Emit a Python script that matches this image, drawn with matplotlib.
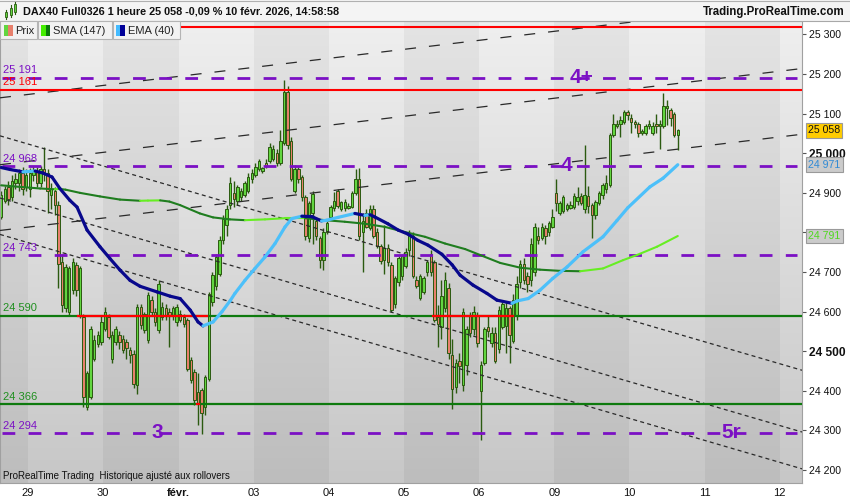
import numpy as np
import matplotlib
matplotlib.use('Agg')
import matplotlib.pyplot as plt
from matplotlib.collections import LineCollection
from matplotlib.patches import Rectangle
import matplotlib.transforms as mtransforms
from matplotlib.lines import Line2D

plt.rcParams['font.family'] = ['Liberation Sans', 'DejaVu Sans']

# ---------------- data (hourly bars, DAX40 Full0326) ----------------
opens = [24840, 24880, 24915, 24890, 24925, 24925, 24950, 24915, 24910, 24945,
         24955, 24925, 24960, 24950, 24895, 24905, 24870, 24725, 24610, 24600,
         24655, 24717, 24590, 24587, 24360, 24385, 24481, 24519, 24523, 24557,
         24587, 24481, 24523, 24540, 24532, 24523, 24502, 24494, 24414, 24612,
         24553, 24528, 24629, 24599, 24553, 24587, 24608, 24600, 24590, 24574,
         24595, 24587, 24578, 24477, 24448, 24398, 24402, 24360, 24431, 24624,
         24666, 24696, 24780, 24820, 24870, 24900, 24880, 24890, 24895, 24905,
         24935, 24945, 24960, 24955, 24975, 24980, 24985, 25000, 24975, 25025,
         25155, 25030, 24905, 24960, 24940, 24890, 24785, 24850, 24830, 24785,
         24730, 24800, 24840, 24862, 24905, 24860, 24862, 24862, 24865, 24900,
         24935, 24800, 24850, 24810, 24860, 24800, 24765, 24730, 24760, 24718,
         24620, 24675, 24690, 24715, 24755, 24790, 24680, 24635, 24650, 24700,
         24745, 24725, 24587, 24560, 24610, 24660, 24490, 24410, 24475, 24415,
         24465, 24590, 24555, 24590, 24400, 24470, 24560, 24520, 24545, 24505,
         24560, 24565, 24608, 24525, 24590, 24675, 24720, 24690, 24680, 24700,
         24790, 24785, 24810, 24800, 24815, 24900, 24850, 24855, 24860, 24862,
         24865, 24880, 24893, 24860, 24893, 24870, 24845, 24875, 24895, 24910,
         24920, 25045, 25070, 25075, 25080, 25105, 25090, 25078, 25075, 25050,
         25050, 25068, 25050, 25075, 25070, 25070, 25115, 25110, 25100, 25045]
highs = [24905, 24918, 24930, 24945, 24950, 24960, 24965, 24960, 24962, 24968,
         24965, 24968, 25015, 24960, 24925, 24915, 24880, 24745, 24720, 24715,
         24735, 24725, 24715, 24595, 24450, 24565, 24540, 24550, 24591, 24612,
         24595, 24550, 24565, 24550, 24540, 24530, 24510, 24502, 24620, 24620,
         24600, 24650, 24640, 24610, 24680, 24625, 24620, 24610, 24615, 24620,
         24605, 24595, 24585, 24485, 24455, 24444, 24406, 24440, 24650, 24700,
         24745, 24790, 24845, 24870, 24940, 24930, 24920, 24912, 24930, 24950,
         24960, 24975, 24985, 24965, 24985, 25025, 25020, 25010, 25058, 25185,
         25170, 25040, 24970, 24965, 24945, 24895, 24880, 24905, 24840, 24790,
         24810, 24830, 24870, 24902, 24910, 24880, 24885, 24875, 24905, 24960,
         24962, 24850, 24860, 24870, 24870, 24810, 24770, 24818, 24770, 24725,
         24690, 24740, 24745, 24760, 24805, 24800, 24690, 24695, 24690, 24730,
         24755, 24730, 24616, 24680, 24700, 24672, 24530, 24480, 24495, 24610,
         24565, 24600, 24615, 24600, 24475, 24560, 24590, 24560, 24560, 24615,
         24625, 24625, 24615, 24645, 24690, 24730, 24735, 24700, 24785, 24825,
         24815, 24825, 24820, 24830, 24860, 24935, 24880, 24895, 24875, 24880,
         24900, 24915, 24900, 25020, 24918, 24875, 24882, 24905, 24925, 24945,
         25050, 25100, 25085, 25095, 25110, 25110, 25100, 25085, 25080, 25062,
         25075, 25085, 25080, 25100, 25085, 25152, 25135, 25115, 25105, 25060]
lows = [24835, 24875, 24870, 24880, 24910, 24905, 24895, 24905, 24890, 24930,
        24915, 24915, 24930, 24850, 24860, 24845, 24660, 24600, 24600, 24590,
        24645, 24640, 24585, 24360, 24352, 24380, 24475, 24510, 24515, 24550,
        24530, 24470, 24515, 24505, 24495, 24480, 24470, 24406, 24393, 24555,
        24545, 24520, 24590, 24565, 24545, 24580, 24580, 24511, 24580, 24565,
        24575, 24560, 24450, 24420, 24365, 24313, 24292, 24338, 24425, 24615,
        24655, 24690, 24770, 24790, 24860, 24865, 24870, 24880, 24890, 24900,
        24925, 24940, 24955, 24950, 24962, 24975, 24980, 24968, 24970, 25020,
        25010, 24930, 24900, 24925, 24880, 24780, 24775, 24772, 24780, 24710,
        24705, 24795, 24835, 24855, 24862, 24855, 24855, 24858, 24862, 24895,
        24780, 24700, 24810, 24805, 24785, 24760, 24720, 24695, 24715, 24600,
        24610, 24665, 24680, 24710, 24740, 24685, 24660, 24630, 24645, 24690,
        24690, 24575, 24510, 24530, 24600, 24480, 24355, 24395, 24420, 24400,
        24440, 24535, 24540, 24510, 24275, 24465, 24535, 24510, 24470, 24495,
        24555, 24495, 24470, 24520, 24580, 24660, 24670, 24650, 24665, 24690,
        24770, 24780, 24770, 24790, 24810, 24855, 24843, 24850, 24855, 24858,
        24860, 24870, 24870, 24850, 24850, 24785, 24835, 24870, 24885, 24900,
        24915, 25040, 25065, 25040, 25075, 25085, 25050, 25065, 25040, 25045,
        25045, 25060, 25045, 25050, 25012, 25065, 25072, 25070, 25040, 25008]
closes = [24895, 24910, 24885, 24930, 24935, 24950, 24910, 24945, 24950, 24955,
          24925, 24960, 24950, 24905, 24910, 24870, 24720, 24616, 24713, 24709,
          24725, 24654, 24709, 24385, 24444, 24557, 24528, 24540, 24574, 24599,
          24536, 24540, 24557, 24523, 24502, 24507, 24490, 24418, 24612, 24566,
          24595, 24641, 24599, 24574, 24671, 24612, 24591, 24590, 24608, 24612,
          24580, 24570, 24456, 24427, 24376, 24368, 24343, 24435, 24645, 24692,
          24738, 24780, 24835, 24860, 24925, 24885, 24915, 24905, 24925, 24940,
          24950, 24965, 24980, 24962, 24968, 25015, 25010, 24975, 25030, 25155,
          25020, 24935, 24960, 24935, 24890, 24790, 24875, 24898, 24790, 24730,
          24800, 24825, 24865, 24880, 24868, 24877, 24878, 24868, 24900, 24935,
          24790, 24830, 24815, 24860, 24790, 24765, 24727, 24760, 24725, 24605,
          24685, 24735, 24740, 24750, 24795, 24690, 24665, 24690, 24685, 24725,
          24700, 24580, 24570, 24640, 24680, 24495, 24405, 24470, 24462, 24600,
          24555, 24545, 24600, 24520, 24465, 24555, 24550, 24545, 24475, 24605,
          24620, 24610, 24540, 24630, 24670, 24720, 24680, 24670, 24770, 24815,
          24780, 24815, 24790, 24825, 24840, 24875, 24875, 24890, 24870, 24870,
          24893, 24890, 24875, 24895, 24868, 24845, 24876, 24900, 24920, 24925,
          25045, 25075, 25075, 25085, 25105, 25097, 25080, 25073, 25050, 25055,
          25070, 25075, 25070, 25070, 25073, 25120, 25120, 25090, 25045, 25058]

day_labels = ['29', '30', 'févr.', '03', '04', '05', '06', '09', '10', '11', '12']
day_start_bar = [8, 29, 50, 71, 92, 113, 134, 155, 176, 197, 218]

# SMA(147) and EMA(40) values (bar position, price)
sma_bar = [0, 5.3, 10.9, 15, 16.4, 18, 22, 27.6, 33.2, 38.8, 41, 44.4, 47, 50,
           55.5, 59.2, 63.9, 68.1, 73.7, 79.3, 84.9, 90.5, 96, 101.6, 107.2,
           112.8, 118.4, 124, 129.6, 133.8, 139.4, 145, 150.5, 156.1, 161.7,
           168.1, 173.7, 177.6, 183.2, 189]
sma_val = [24919, 24915, 24911, 24909, 24910, 24908, 24900, 24891, 24883, 24880,
           24880.5, 24881, 24878, 24869, 24848, 24838, 24833, 24831, 24833,
           24836, 24836, 24831, 24827, 24822, 24814, 24801, 24789, 24772, 24758,
           24743, 24723, 24711, 24706, 24703, 24702, 24709, 24730, 24743, 24764,
           24791]
ema_bar = [0, 2.5, 6.1, 9.5, 11.7, 14.2, 16.4, 19.2, 21.2, 24, 27.6, 30.4, 33.2,
           36, 38.8, 43.5, 47.2, 50, 52.8, 55, 56.4, 59.2, 61.7, 64, 65.3, 68.1,
           70.9, 73.7, 76.5, 79.3, 81.2, 84, 86.8, 89.5, 91, 94.1, 98.8, 101.6,
           103, 104.4, 108, 110.9, 113.6, 116.4, 119.2, 123.1, 126, 128.2, 131.8,
           135.7, 138.5, 142.7, 144.1, 147.2, 150.5, 154.1, 158.1, 162.5, 168.1,
           172, 175, 181.2, 184.9, 189]
ema_val = [24964, 24959, 24953, 24955, 24950, 24940, 24911, 24881, 24864, 24806,
           24764, 24734, 24705, 24679, 24664, 24650, 24639, 24633, 24604, 24574,
           24564, 24574, 24600, 24628, 24646, 24679, 24709, 24738, 24772, 24814,
           24835, 24841, 24840, 24829, 24831, 24838, 24848, 24843, 24845, 24839,
           24822, 24806, 24796, 24780, 24768, 24745, 24718, 24692, 24667, 24646,
           24629, 24621, 24627, 24633, 24654, 24684, 24713, 24751, 24789, 24830,
           24862, 24915, 24937, 24971]

# horizontal levels
level_values = [25320, 25191, 25161, 24968, 24743, 24590, 24366, 24294]
level_kinds = ['red', 'purple', 'red', 'purple', 'purple', 'green', 'green', 'purple']
level_texts = ['', '25 191', '25 161', '24 968', '24 743', '24 590', '24 366', '24 294']
broken_level = [24590, 24590, 24366]
broken_from = [21.5, 120.7, 54.6]
broken_to = [57.5, 142.9, 55.4]

# trend lines: price at left edge and right edge of the chart
trend_up_start = [25140, 24971, 24805]
trend_up_end = [25383, 25214, 25048]
trend_down_start = [25044, 24887, 24795]
trend_down_end = [24452, 24296, 24203]

wave_texts = ['4+', '4', '3', '5r']
wave_bar = [162, 158, 43.5, 204]
wave_price = [25191, 24968, 24294, 24294]

last_price = 25058
y_ticks = list(range(24200, 25301, 100))
hidden_tick_labels = [24800]   # covered by the SMA price tag in the original

# ---------------- styling ----------------
W, H = 850, 500
PURPLE = '#7b10c4'
RED = '#ff0000'
GREEN_LVL = '#0e7a0e'
WICK = '#2b5a10'
UP_FILL = '#62d640'
DN_FILL = '#e8806c'

fig = plt.figure(figsize=(W / 100, H / 100), dpi=100)
fig.patch.set_facecolor('white')
ax_left, ax_right, ax_top, ax_bot = 0, 802, 21, 482.7
ax = fig.add_axes([ax_left / W, (H - ax_bot) / H, (ax_right - ax_left) / W,
                   (ax_bot - ax_top) / H])
x0, x1 = -0.32, 223.7
y0, y1 = 24168, 25334
ax.set_xlim(x0, x1)
ax.set_ylim(y0, y1)

# background day bands with vertical gradient
nx, ny = 1400, 200
xs = np.linspace(x0, x1, nx)
bounds = np.array(day_start_bar) - 0.5
k = np.searchsorted(bounds, xs, side='right')
light = (k % 2 == 1)
t = np.linspace(0, 1, ny)[:, None]
val_light = 199 + (239 - 199) * t
val_dark = 189 + (228 - 189) * t
img = np.where(light[None, :], val_light, val_dark) / 255.0
ax.imshow(np.dstack([img] * 3), extent=(x0, x1, y0, y1), origin='lower',
          aspect='auto', interpolation='nearest', zorder=0)

# trend lines
for a, b in zip(trend_up_start, trend_up_end):
    ax.plot([x0, x1], [a, b], color='#2a2a2a', lw=0.9,
            linestyle=(0, (8.8, 10.4)), zorder=3)
for a, b in zip(trend_down_start, trend_down_end):
    ax.plot([x0, x1], [a, b], color='#2a2a2a', lw=0.9,
            linestyle=(0, (3.2, 2.6)), zorder=3)

# candles
idx = np.arange(len(closes))
o = np.array(opens, float)
c = np.array(closes, float)
hi = np.array(highs, float)
lo = np.array(lows, float)
up = c >= o
ax.vlines(idx, lo, hi, color=WICK, lw=1.0, zorder=2)
body_bottom = np.minimum(o, c)
body_h = np.maximum(np.abs(c - o), 2.5)
ax.bar(idx, body_h, bottom=body_bottom, width=0.68,
       color=np.where(up, UP_FILL, DN_FILL), edgecolor=WICK, linewidth=0.7,
       zorder=2.1)

# horizontal levels
for v, kind in zip(level_values, level_kinds):
    if kind == 'purple':
        ax.plot([x0 + 0.55, x1 - 1.3], [v, v], color=PURPLE, lw=2.0,
                linestyle=(0, (4.6, 4.8)), zorder=3.4, solid_capstyle='butt')
    elif kind == 'red':
        ax.axhline(v, color=RED, lw=1.5, zorder=3.3)
    else:
        ax.axhline(v, color=GREEN_LVL, lw=1.6, zorder=3.3)
for v, a, b in zip(broken_level, broken_from, broken_to):
    ax.plot([a, b], [v, v], color=RED, lw=1.6, zorder=3.35)

lab_tr = mtransforms.blended_transform_factory(ax.transAxes, ax.transData)
lab_colors = {'purple': PURPLE, 'red': RED, 'green': '#1f8f1f'}
for v, kind, txt in zip(level_values, level_kinds, level_texts):
    if txt:
        ax.annotate(txt, xy=(3 / 802, v), xycoords=lab_tr, xytext=(0, 3),
                    textcoords='offset points', va='baseline', ha='left',
                    fontsize=8, color=lab_colors[kind], zorder=6)


def ma_collection(xv, yv, up_color, down_color, lw):
    pts = np.column_stack([xv, yv])
    segs = np.stack([pts[:-1], pts[1:]], axis=1)
    cols = [up_color if yv[i + 1] >= yv[i] else down_color
            for i in range(len(yv) - 1)]
    return LineCollection(segs, colors=cols, linewidths=lw, capstyle='round',
                          joinstyle='round', zorder=4)


ax.add_collection(ma_collection(sma_bar, sma_val, '#66ee22', '#1f7d1f', 1.5))
ax.add_collection(ma_collection(ema_bar, ema_val, '#4cc0fa', '#08088c', 2.3))

# wave labels
for txt, xb, yp in zip(wave_texts, wave_bar, wave_price):
    ax.text(xb, yp, txt, color=PURPLE, fontsize=15, fontweight='bold',
            ha='center', va='center', zorder=5)

# axes styling
for s in ax.spines.values():
    s.set_color('#a0a0a0')
    s.set_linewidth(0.8)
ax.yaxis.tick_right()
ax.set_yticks(y_ticks)
ax.set_yticklabels(['' if v in hidden_tick_labels else f'{v // 1000} {v % 1000:03d}'
                    for v in y_ticks])
ax.tick_params(axis='y', length=3, width=0.8, color='#555555', pad=2,
               labelsize=7.6, labelcolor='#111111')
for lbl, v in zip(ax.get_yticklabels(), y_ticks):
    if v in (25000, 24500):
        lbl.set_fontweight('bold')
        lbl.set_fontsize(8.6)
ax.set_xticks(np.array(day_start_bar) - 0.5)
ax.set_xticklabels(day_labels)
ax.tick_params(axis='x', length=0, pad=3.5, labelsize=8, labelcolor='#111111')
for lbl in ax.get_xticklabels():
    if lbl.get_text() == 'févr.':
        lbl.set_fontweight('bold')

# price tags on the right
tag_x = 1.0075
ax.text(tag_x, last_price, f'{last_price // 1000} {last_price % 1000:03d}',
        transform=lab_tr, va='center', ha='left', fontsize=7.6, color='#111111',
        bbox=dict(boxstyle='square,pad=0.22', fc='#ffcc00', ec='#9a9a9a', lw=0.8),
        clip_on=False, zorder=10)
ev = ema_val[-1]
ax.text(tag_x, ev, f'{ev // 1000} {ev % 1000:03d}', transform=lab_tr,
        va='center', ha='left', fontsize=7.6, color='#2f8ad6',
        bbox=dict(boxstyle='square,pad=0.22', fc='#cbcbcb', ec='#9a9a9a', lw=0.8),
        clip_on=False, zorder=10)
sv = sma_val[-1]
ax.text(tag_x, sv, f'{sv // 1000} {sv % 1000:03d}', transform=lab_tr,
        va='center', ha='left', fontsize=7.6, color='#4fd81e',
        bbox=dict(boxstyle='square,pad=0.22', fc='#cbcbcb', ec='#9a9a9a', lw=0.8),
        clip_on=False, zorder=10)

# footer inside the plot
ax.text(3 / 802, 6.5 / 461.7, 'ProRealTime Trading  Historique ajusté aux rollovers',
        transform=ax.transAxes, fontsize=7, va='center', ha='left',
        color='#111111', zorder=6)

# ---------------- title bar and legend (figure pixels) ----------------
def fx(px):
    return px / W


def fy(py):
    return 1 - py / H


fig.add_artist(Rectangle((0, fy(21)), 1, 21 / H, transform=fig.transFigure,
                         fc='#f4f4f4', ec='none', zorder=8))
fig.add_artist(Line2D([0, 1], [fy(21), fy(21)], transform=fig.transFigure,
                      color='#a8a8a8', lw=0.8, zorder=9))
fig.add_artist(Line2D([0, 1], [fy(0.5), fy(0.5)], transform=fig.transFigure,
                      color='#b0b0b0', lw=0.8, zorder=9))
# candle icon
for cx, top, bot, wt, wb in [(5, 12, 17, 10, 19), (9.5, 8, 15, 5, 17), (14, 4, 12, 2, 14)]:
    fig.add_artist(Line2D([fx(cx + 1), fx(cx + 1)], [fy(wt), fy(wb)],
                          transform=fig.transFigure, color=WICK, lw=0.8, zorder=9))
    fig.add_artist(Rectangle((fx(cx), fy(bot)), 2 / W, (bot - top) / H,
                             transform=fig.transFigure, fc=UP_FILL, ec=WICK,
                             lw=0.6, zorder=9.5))
fig.text(fx(23), fy(11.5), 'DAX40 Full0326 1 heure 25 058 -0,09 % 10 févr. 2026, 14:58:58',
         fontsize=7.8, fontweight='bold', va='center', ha='left', color='#111111',
         zorder=10)
fig.text(fx(845), fy(12.5), 'Trading.ProRealTime.com', fontsize=8.3,
         fontweight='bold', va='center', ha='right', color='#111111', zorder=10)

legend_boxes = [(0, 37, 'Prix', UP_FILL, DN_FILL),
                (37.5, 112, 'SMA (147)', '#44ee00', '#0a7a0a'),
                (112.5, 180, 'EMA (40)', '#44bbff', '#000099')]
for lx0, lx1, txt, c1, c2 in legend_boxes:
    fig.add_artist(Rectangle((fx(lx0), fy(39)), (lx1 - lx0) / W, 17.5 / H,
                             transform=fig.transFigure, fc='#f2f2f2',
                             ec='#b4b4b4', lw=0.8, zorder=10))
    fig.add_artist(Rectangle((fx(lx0 + 3.5), fy(35.5)), 4.5 / W, 10 / H,
                             transform=fig.transFigure, fc=c1, ec='none', zorder=11))
    fig.add_artist(Rectangle((fx(lx0 + 8), fy(35.5)), 4.5 / W, 10 / H,
                             transform=fig.transFigure, fc=c2, ec='none', zorder=11))
    fig.text(fx(lx0 + 15.5), fy(30.5), txt, fontsize=8, va='center', ha='left',
             color='#222222', zorder=12)

fig.savefig('out.png', dpi=100)
